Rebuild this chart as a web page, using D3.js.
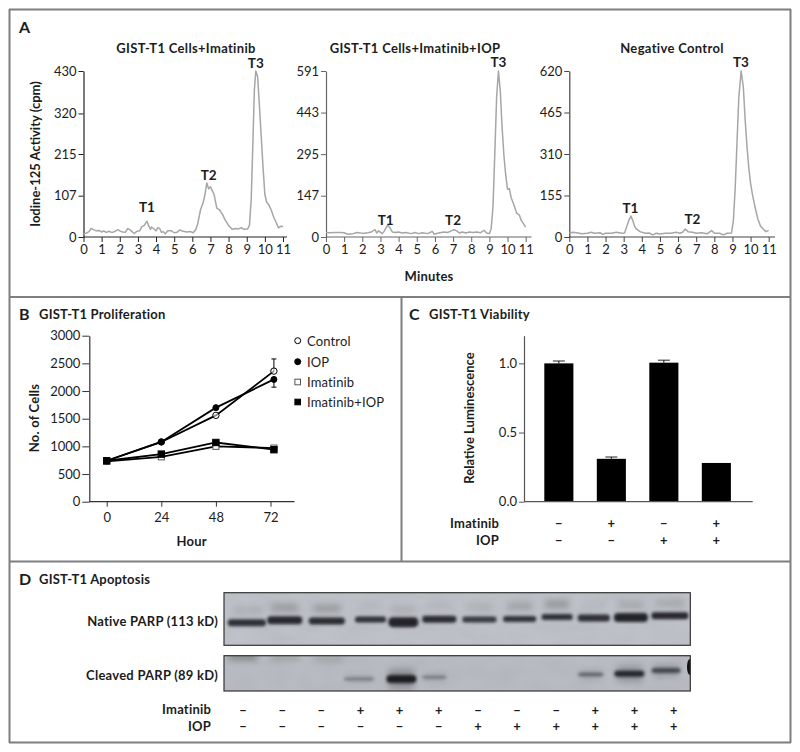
<!DOCTYPE html>
<html><head><meta charset="utf-8">
<script src="https://cdn.jsdelivr.net/npm/d3@7"></script>
<style>
html,body{margin:0;padding:0;background:#fff}
svg{display:block}
text{font-family:"Lato","Open Sans",sans-serif;fill:#1c1c1c}
</style></head><body><svg id="c" width="800" height="752"></svg>
<script>
// ---------- Panel A data: [minutes, cpm]
const traceImatinib=[[0,8],[.15,10],[.3,14],[.42,22],[.55,19],[.7,16],[.85,17],[1,13],[1.12,16],[1.25,12],[1.4,15],[1.5,13],[1.6,12],[1.75,15],[1.9,19],[2,16],[2.15,13],[2.3,12],[2.45,22],[2.6,17],[2.8,9],[2.95,15],[3.1,16],[3.2,26],[3.35,30],[3.5,41],[3.6,28],[3.7,20],[3.75,26],[3.9,20],[4,16],[4.1,24],[4.2,22],[4.3,12],[4.4,14],[4.5,8],[4.65,16],[4.85,16],[5,11],[5.15,12],[5.3,18],[5.5,15],[5.7,13],[5.9,14],[6.05,11],[6.2,20],[6.3,35],[6.45,70],[6.6,90],[6.7,110],[6.8,140],[6.9,125],[7,130],[7.1,120],[7.2,110],[7.35,75],[7.5,70],[7.65,60],[7.8,45],[8,30],[8.2,20],[8.4,22],[8.55,21],[8.7,24],[8.85,20],[9.05,21],[9.15,30],[9.25,100],[9.35,260],[9.42,380],[9.5,430],[9.6,415],[9.7,340],[9.8,260],[9.9,180],[10,110],[10.1,90],[10.2,85],[10.35,70],[10.5,50],[10.65,35],[10.75,24],[10.9,28],[11,27]];
const traceImatinibIOP=[[0,16],[.2,15],[.5,16],[.8,16],[1,15],[1.2,10],[1.5,12],[1.7,16],[1.9,14],[2.1,13],[2.3,15],[2.5,18],[2.7,26],[2.8,14],[2.9,22],[3.1,12],[3.2,20],[3.3,32],[3.4,42],[3.5,35],[3.65,18],[3.8,16],[4,18],[4.2,14],[4.4,16],[4.7,12],[4.9,16],[5.1,12],[5.3,15],[5.6,12],[5.85,20],[5.95,10],[6.2,14],[6.5,18],[6.7,16],[6.9,22],[7.05,26],[7.2,22],[7.35,14],[7.5,18],[7.7,14],[7.9,18],[8.1,16],[8.3,18],[8.5,15],[8.7,24],[8.85,14],[9,12],[9.1,30],[9.2,110],[9.3,300],[9.4,500],[9.5,591],[9.6,520],[9.7,390],[9.8,290],[9.9,220],[10,170],[10.1,172],[10.2,140],[10.35,115],[10.5,85],[10.65,78],[10.75,60],[10.9,45],[11,35]];
const traceNegative=[[0,14],[.2,18],[.4,16],[.7,12],[1,14],[1.2,18],[1.4,14],[1.7,16],[1.85,10],[2,14],[2.3,14],[2.6,18],[2.9,14],[3.05,15],[3.15,35],[3.3,65],[3.4,78],[3.5,62],[3.6,40],[3.7,30],[3.9,20],[4.2,14],[4.4,15],[4.6,8],[4.8,14],[5,11],[5.3,14],[5.6,14],[5.9,18],[6.1,14],[6.25,18],[6.4,30],[6.55,20],[6.8,18],[7,14],[7.3,16],[7.6,12],[7.85,24],[8,14],[8.3,14],[8.5,8],[8.7,14],[8.95,15],[9.05,60],[9.15,180],[9.25,350],[9.35,520],[9.48,620],[9.6,560],[9.7,440],[9.8,340],[9.9,260],[10,200],[10.1,160],[10.25,110],[10.4,68],[10.55,40],[10.7,30],[10.85,20],[11,25]];
const minuteTicks=[0,1,2,3,4,5,6,7,8,9,10,11];
const ticksA1=[0,107,215,320,430];
const ticksA2=[0,147,295,443,591];
const ticksA3=[0,155,310,465,620];
const titlesA=["GIST-T1 Cells+Imatinib","GIST-T1 Cells+Imatinib+IOP","Negative Control"];
const peakLabels=["T1","T2","T3"];
const peakMinA1=[3.5,6.9,9.5], peakCpmA1=[77,160,452];
const peakMinA2=[3.29,7.0,9.5], peakCpmA2=[62,62,622];
const peakMinA3=[3.37,6.79,9.47], peakCpmA3=[108,66,652];

// ---------- Panel B data
const hours=[0,24,48,73.5];
const hourTicks=[0,24,48,72];
const cellTicks=[0,500,1000,1500,2000,2500,3000];
const control=[740,1080,1560,2360];
const iop=[740,1080,1700,2210];
const imatinib=[730,810,1000,970];
const imatinibIop=[740,860,1070,940];
const controlErrUp=2580, iopErrDown=2070;
const legendNames=["Control","IOP","Imatinib","Imatinib+IOP"];

// ---------- Panel C data
const viability=[1.0,0.31,1.005,0.28];
const viabilityErr=[0.017,0.013,0.018,0];
const viabilityTicks=[0,0.5,1.0];
const imatinibSignsC=["–","+","–","+"];
const iopSignsC=["–","–","+","+"];

// ---------- Panel D data (band darkness 0-1, lane position in lane units)
const imatinibSignsD=["–","–","–","+","+","+","–","–","–","+","+","+"];
const iopSignsD=["–","–","–","–","–","–","+","+","+","+","+","+"];
const nativeLane=[1.1,2.08,3.17,4.3,5.15,6.08,7.12,8.16,9.13,10.08,11.04,12.05];
const nativeDark=[.88,.92,.9,.88,.95,.9,.82,.86,.88,.88,.95,.92];
const nativeMigr=[.43,.475,.46,.49,.44,.495,.49,.5,.54,.52,.53,.56];
const nativeWide=[38,35,36,31,30,34,34,33,31,32,34,37];
const nativeThick=[6,7,6,5,9,6,5,5,5,6,8,6];
const upperDark=[.1,.22,.22,.05,.1,.05,.08,.18,.24,.05,.14,.13];
const cleavedLane=[4,5.1,5.95,10.0,11,11.95];
const cleavedDark=[.32,1,.32,.5,.92,.68];
const cleavedMigr=[.34,.34,.39,.47,.49,.58];
const cleavedWide=[30,30,24,25,30,29];
const cleavedThick=[3.5,8,3.5,3.5,6,5];

// ---------- helpers
const svg=d3.select("#c");
const root=svg.append("g");
root.append("rect").attr("width",800).attr("height",752).attr("fill","#fff");
const defs=svg.append("defs");
[1.35,1.7,3,4].forEach((s,i)=>defs.append("filter").attr("id","blur"+i)
  .attr("x","-30%").attr("y","-200%").attr("width","160%").attr("height","500%")
  .append("feGaussianBlur").attr("stdDeviation",s));
defs.append("filter").attr("id","soft").append("feGaussianBlur").attr("stdDeviation",.3);
const noise=defs.append("filter").attr("id","gelnoise").attr("x",0).attr("y",0).attr("width","100%").attr("height","100%");
noise.append("feTurbulence").attr("type","fractalNoise").attr("baseFrequency","0.035 0.06").attr("numOctaves",3).attr("seed",4);
noise.append("feColorMatrix").attr("type","matrix").attr("values","0 0 0 0 .25  0 0 0 0 .25  0 0 0 0 .28  0 0 0 .55 -.12");

function line(x1,y1,x2,y2,col="#7d7f82",w=2){root.append("line").attr("x1",x1).attr("y1",y1).attr("x2",x2).attr("y2",y2).attr("stroke",col).attr("stroke-width",w);}
function txt(s,x,y,o={}){const t=root.append("text").text(s).attr("x",x).attr("y",y)
  .attr("dominant-baseline","central").attr("text-anchor",o.a||"start").attr("font-size",o.s||13).attr("font-weight",o.w||400);
  if(o.ls) t.attr("letter-spacing",o.ls);
  if(o.r) t.attr("transform",`rotate(-90 ${x} ${y})`); return t;}
function sign(s,x,y){const t=txt(s,x,y,{a:"middle",s:13,w:700}); if(s==="–") t.attr("textLength",8).attr("lengthAdjust","spacingAndGlyphs"); return t;}
const SB=700;
function styleAxis(g,col){g.select(".domain").attr("stroke",col).attr("stroke-width",1.2);
  g.selectAll(".tick line").attr("stroke",col).attr("stroke-width",1);
  g.selectAll(".tick text").attr("font-size",13).attr("font-family",'Lato,sans-serif').attr("fill","#222");}

// ---------- frames
line(9,9.5,791,9.5);line(9.5,9,9.5,743);line(790.5,9,790.5,743);line(9,742.5,791,742.5);
line(9,297,791,297);line(9,561.5,791,561.5);line(401.5,297,401.5,562);

// ---------- Panel A
txt("A",19,26,{s:16,w:700});
function trace(data,ticks,x0,x11,xEnd,title,titleX,peakMin,peakCpm,col){
  const x=d3.scaleLinear().domain([0,11]).range([x0,x11]);
  const y=d3.scaleLinear().domain([0,ticks[ticks.length-1]]).range([237,71]);
  const gx=root.append("g").attr("transform","translate(0,237)").call(d3.axisBottom(x).tickValues(minuteTicks).tickSize(5).tickPadding(3).tickSizeOuter(0));
  styleAxis(gx,col);
  gx.select(".domain").attr("d",`M${x0},0H${xEnd}`);
  const gy=root.append("g").attr("transform",`translate(${x0},0)`).call(d3.axisLeft(y).tickValues(ticks).tickSize(5).tickPadding(2).tickSizeOuter(0));
  styleAxis(gy,col);
  root.append("path").datum(data).attr("fill","none").attr("stroke","#a6a6a6").attr("stroke-width",1.5).attr("stroke-linejoin","round").attr("filter","url(#soft)")
    .attr("d",d3.line().x(d=>x(d[0])).y(d=>y(d[1])));
  peakLabels.forEach((l,i)=>txt(l,x(peakMin[i]),y(peakCpm[i]),{a:"middle",s:13.5,w:SB}));
  txt(title,titleX,48,{a:"middle",s:13,w:SB,ls:.32});
}
trace(traceImatinib,ticksA1,83.5,283,287,titlesA[0],186,peakMinA1,peakCpmA1,"#222");
trace(traceImatinibIOP,ticksA2,326,525.7,531.5,titlesA[1],415,peakMinA2,peakCpmA2,"#666");
trace(traceNegative,ticksA3,569.3,768.7,775,titlesA[2],672,peakMinA3,peakCpmA3,"#444");
txt("Iodine-125 Activity (cpm)",34.5,154,{a:"middle",s:13,w:SB,r:1});
txt("Minutes",429,276,{a:"middle",s:13,w:SB,ls:.2});

// ---------- Panel B
txt("B",19,313,{s:16,w:700});
txt("GIST-T1 Proliferation",39,314,{s:13,w:SB,ls:.2});
{
 const x=d3.scaleLinear().domain([0,72]).range([106.7,270.5]);
 const y=d3.scaleLinear().domain([0,3000]).range([501.7,335.7]);
 const gx=root.append("g").attr("transform","translate(0,501.7)").call(d3.axisBottom(x).tickValues(hourTicks).tickSize(5).tickPadding(6).tickSizeOuter(0));
 styleAxis(gx,"#333");gx.select(".domain").attr("d","M89.3,0H294.5");
 const gy=root.append("g").attr("transform","translate(89.3,0)").call(d3.axisLeft(y).tickValues(cellTicks).tickFormat(d3.format("d")).tickSize(7).tickPadding(2).tickSizeOuter(0));
 styleAxis(gy,"#333");
 const series=[imatinib,control,iop,imatinibIop];
 const ln=d3.line().x((d,i)=>x(hours[i])).y(d=>y(d));
 series.forEach(s=>root.append("path").datum(s).attr("fill","none").attr("stroke","#000").attr("stroke-width",1.8).attr("d",ln));
 [[control[3],controlErrUp],[iop[3],iopErrDown]].forEach(([a,b])=>{
  root.append("line").attr("x1",x(hours[3])).attr("x2",x(hours[3])).attr("y1",y(a)).attr("y2",y(b)).attr("stroke","#000");
  root.append("line").attr("x1",x(hours[3])-2.5).attr("x2",x(hours[3])+2.5).attr("y1",y(b)).attr("y2",y(b)).attr("stroke","#000");
 });
 const circ=(cx,cy,fill,r)=>root.append("circle").attr("cx",cx).attr("cy",cy).attr("r",r).attr("fill",fill).attr("stroke","#000").attr("stroke-width",1);
 const sq=(cx,cy,fill,r)=>root.append("rect").attr("x",cx-r).attr("y",cy-r).attr("width",2*r).attr("height",2*r).attr("fill",fill).attr("stroke",fill=="#000"?"#000":"#555").attr("stroke-width",1);
 imatinib.forEach((v,i)=>sq(x(hours[i]),y(v),"#fff",3));
 control.forEach((v,i)=>circ(x(hours[i]),y(v),"rgba(255,255,255,.55)",3.2));
 iop.forEach((v,i)=>{ if(i!=0) circ(x(hours[i]),y(v),"#000",3);});
 imatinibIop.forEach((v,i)=>sq(x(hours[i]),y(v),"#000",3.2));
 const ly=[340.7,361.7,382,402];
 legendNames.forEach((n,i)=>txt(n,307,ly[i],{s:13,ls:.15}));
 circ(297.7,ly[0],"#fff",3);circ(297.7,ly[1],"#000",3);sq(297.7,ly[2],"#fff",2.8);sq(297.7,ly[3],"#000",2.8);
}
txt("No. of Cells",34,418,{a:"middle",s:13,w:SB,ls:.2,r:1});
txt("Hour",191.7,541,{a:"middle",s:13,w:SB,ls:.2});

// ---------- Panel C
txt("C",409,313,{s:16,w:700});
txt("GIST-T1 Viability",429,314,{s:13,w:SB,ls:.2});
{
 const groups=d3.range(viability.length);
 const x=d3.scaleBand().domain(groups).range([532.6,742.6]).paddingInner(.446).paddingOuter(.223);
 const y=d3.scaleLinear().domain([0,1.2]).range([501.7,335.7]);
 const gy=root.append("g").attr("transform","translate(524,0)").call(d3.axisLeft(y).tickValues(viabilityTicks).tickFormat(d3.format(".1f")).tickSize(5).tickPadding(2).tickSizeOuter(0));
 styleAxis(gy,"#555");
 root.selectAll(".bar").data(viability).enter().append("rect").attr("x",(d,i)=>x(i)).attr("width",x.bandwidth())
   .attr("y",d=>y(d)).attr("height",d=>y(0)-y(d)).attr("fill","#000");
 viability.forEach((v,i)=>{ if(viabilityErr[i]>0){const c=x(i)+x.bandwidth()/2;
   root.append("line").attr("x1",c).attr("x2",c).attr("y1",y(v)).attr("y2",y(v+viabilityErr[i])).attr("stroke","#000");
   root.append("line").attr("x1",c-6).attr("x2",c+6).attr("y1",y(v+viabilityErr[i])).attr("y2",y(v+viabilityErr[i])).attr("stroke","#222");}});
 root.append("line").attr("x1",524).attr("x2",752.7).attr("y1",501.7).attr("y2",501.7).attr("stroke","#555").attr("stroke-width",1.2);
 txt("Imatinib",499,523,{a:"end",s:13,w:SB,ls:.2});
 txt("IOP",499,540,{a:"end",s:13,w:SB,ls:.2});
 groups.forEach(i=>{const c=x(i)+x.bandwidth()/2;
   sign(imatinibSignsC[i],c,523);
   sign(iopSignsC[i],c,540);});
}
txt("Relative Luminescence",469.3,418,{a:"middle",s:13,w:SB,r:1});

// ---------- Panel D
txt("D",19,578,{s:16,w:700});
txt("GIST-T1 Apoptosis",39,579,{s:13,w:SB,ls:.2});
{
 const lane=d3.scaleLinear().domain([1,12]).range([243,668]);
 const signX=d3.scalePoint().domain(d3.range(12)).range([243,673.7]);
 const migr1=d3.scaleLinear().domain([0,1]).range([645.3,592.7]);
 const migr2=d3.scaleLinear().domain([0,1]).range([691,655.7]);
 function gel(id,y0,y1,fill){
  const cp=defs.append("clipPath").attr("id",id);cp.append("rect").attr("x",224).attr("y",y0).attr("width",466.3).attr("height",y1-y0);
  root.append("rect").attr("x",224).attr("y",y0).attr("width",466.3).attr("height",y1-y0).attr("fill",fill);
  root.append("rect").attr("x",224).attr("y",y0).attr("width",466.3).attr("height",y1-y0).attr("filter","url(#gelnoise)").attr("opacity",.3);
  return root.append("g").attr("clip-path",`url(#${id})`);
 }
 const g1=gel("g1",592.7,645.3,"#bfc2c8");
 upperDark.forEach((d,i)=>g1.append("rect").attr("x",lane(nativeLane[i])-nativeWide[i]*.38).attr("width",nativeWide[i]*.76)
   .attr("y",migr1(nativeMigr[i]+.24)-4).attr("height",8).attr("fill","#555").attr("opacity",d*1.5).attr("filter","url(#blur2)"));
 nativeLane.forEach((l,i)=>g1.append("rect").attr("x",lane(l)-nativeWide[i]/2).attr("width",nativeWide[i])
   .attr("y",migr1(nativeMigr[i])-nativeThick[i]/2-.5).attr("height",nativeThick[i]+1).attr("rx",nativeThick[i]/2)
   .attr("fill","#1a1c20").attr("opacity",nativeDark[i]).attr("filter","url(#blur0)"));
 const g2=gel("g2",655.7,691,"#b9bcc2");
 [[1,.97,.45],[2.1,.95,.2],[3.2,.93,.16]].forEach(([l,m,o])=>g2.append("rect").attr("x",lane(l)-14).attr("width",28).attr("y",migr2(m)-3).attr("height",6).attr("fill","#333").attr("opacity",o).attr("filter","url(#blur2)"));
 cleavedLane.forEach((l,i)=>{
  g2.append("rect").attr("x",lane(l)-cleavedWide[i]*.42).attr("width",cleavedWide[i]*.84)
   .attr("y",migr2(cleavedMigr[i])-cleavedThick[i]*1.3).attr("height",cleavedThick[i]*2.6).attr("fill","#444").attr("opacity",cleavedDark[i]*.35).attr("filter","url(#blur2)");
  g2.append("rect").attr("x",lane(l)-cleavedWide[i]/2).attr("width",cleavedWide[i])
   .attr("y",migr2(cleavedMigr[i])-cleavedThick[i]/2).attr("height",cleavedThick[i]).attr("rx",cleavedThick[i]/2)
   .attr("fill","#1d1f24").attr("opacity",cleavedDark[i]).attr("filter","url(#blur1)");
 });
 g2.append("ellipse").attr("cx",690).attr("cy",667).attr("rx",3).attr("ry",8).attr("fill","#111");
 [[224,592.7,466.3,52.6],[224,655.7,466.3,35.3]].forEach(([a,b,w,h])=>root.append("rect").attr("x",a).attr("y",b).attr("width",w).attr("height",h).attr("fill","none").attr("stroke","#333").attr("stroke-width",1.2));
 txt("Native PARP (113 kD)",218,621,{a:"end",s:13,w:SB,ls:.22});
 txt("Cleaved PARP (89 kD)",218,675,{a:"end",s:13,w:SB,ls:.25});
 txt("Imatinib",211,709,{a:"end",s:13,w:SB,ls:.2});
 txt("IOP",211,725.5,{a:"end",s:13,w:SB,ls:.2});
 d3.range(12).forEach(i=>{
  sign(imatinibSignsD[i],signX(i),710);
  sign(iopSignsD[i],signX(i),725.7);
 });
}
</script></body></html>
